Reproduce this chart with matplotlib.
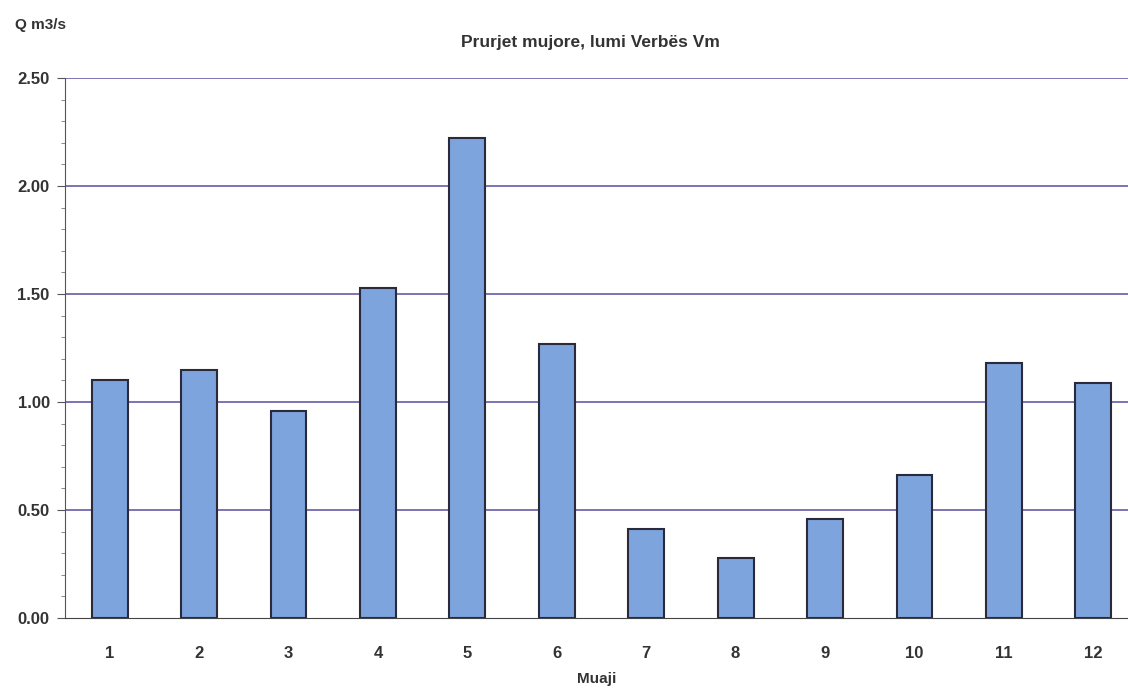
import numpy as np
import matplotlib
matplotlib.use("Agg")
from matplotlib import pyplot as plt
from matplotlib.ticker import MultipleLocator

# Monthly discharge, Verbës Vm
months = [1, 2, 3, 4, 5, 6, 7, 8, 9, 10, 11, 12]
flow = [1.10, 1.15, 0.96, 1.53, 2.22, 1.27, 0.41, 0.28, 0.46, 0.66, 1.18, 1.09]
yticks = [0.0, 0.5, 1.0, 1.5, 2.0, 2.5]

plt.rcParams['font.family'] = ['Liberation Sans', 'DejaVu Sans']

fig = plt.figure(figsize=(11.28, 6.89), dpi=100)
ax = fig.add_axes([65 / 1128, 71 / 689, 1073 / 1128, 540 / 689])

# gridlines at 0.5 steps
for y in yticks[1:]:
    ax.axhline(y, color='#6a5aa8', lw=1.2, zorder=1)

ax.bar(months, flow, width=0.4, color='#7da4dc', edgecolor='#2a2a3a',
       linewidth=1.5, zorder=2)

ax.set_xlim(0.5, 12.5)
ax.set_ylim(0, 2.5)
ax.set_yticks(yticks)
ax.set_yticklabels([f"{v:.2f}" for v in yticks])
ax.yaxis.set_minor_locator(MultipleLocator(0.1))
ax.set_xticks(months)
ax.set_xticklabels([str(m) for m in months])

for s in ['top', 'right']:
    ax.spines[s].set_visible(False)
ax.spines['left'].set_color('#555555')
ax.spines['bottom'].set_color('#444444')
ax.tick_params(axis='y', labelsize=12, length=6, color='#555555', pad=5)
ax.tick_params(axis='y', which='minor', length=3, color='#777777')
ax.tick_params(axis='x', labelsize=12, length=0, pad=20)
for lbl in ax.get_xticklabels() + ax.get_yticklabels():
    lbl.set_fontweight('bold')
    lbl.set_color('#333333')

fig.text(590 / 1128, 1 - 42 / 689, "Prurjet mujore, lumi Verbës Vm", ha='center',
         va='center', fontsize=12.5, fontweight='bold', color='#333333')
fig.text(15 / 1128, 1 - 25 / 689, "Q m3/s", ha='left', va='center',
         fontsize=11, fontweight='bold', color='#333333')
fig.text(597 / 1128, 1 - 679 / 689, "Muaji", ha='center', va='center',
         fontsize=11, fontweight='bold', color='#333333')

fig.savefig("out.png", dpi=100, facecolor='white')
